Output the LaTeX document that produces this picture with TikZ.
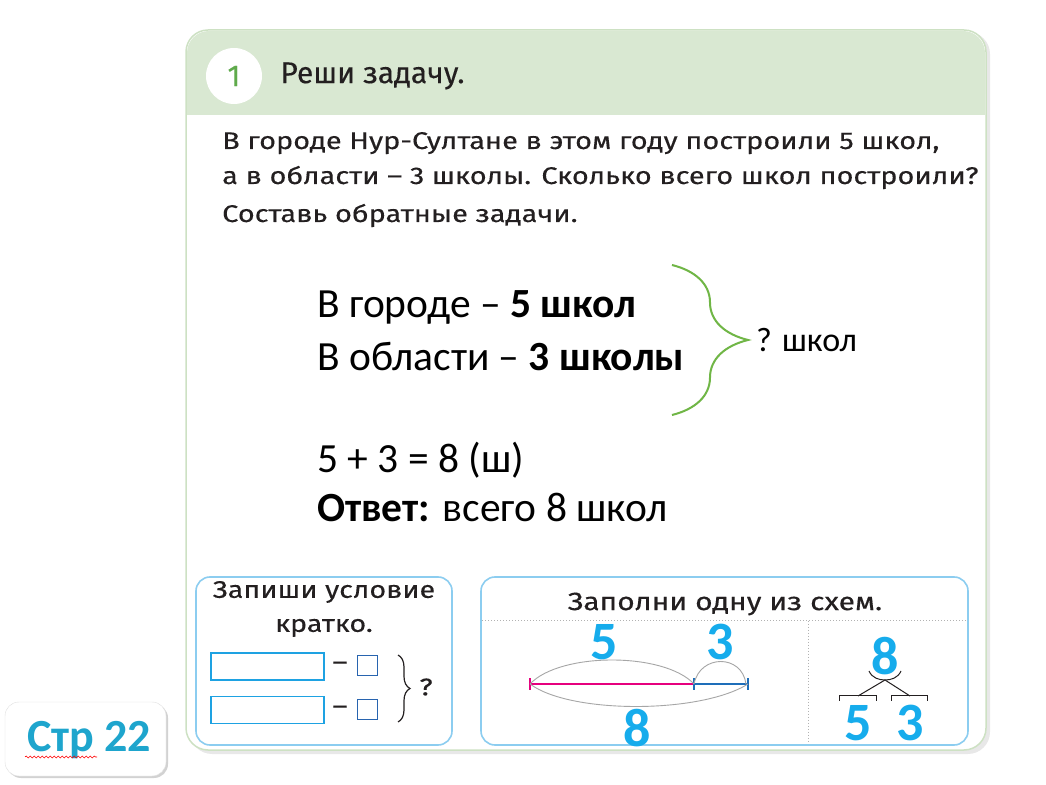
\documentclass[tikz,border=0pt]{standalone}
\usepackage{fontspec}
\setmainfont{Carlito}
\newfontfamily\manuel{Fira Sans}[FakeStretch=1.2, FakeBold=0.3]
\newfontfamily\entete{Fira Sans}[FakeBold=0.3]
\usetikzlibrary{positioning, shapes, arrows, decorations.pathreplacing, decorations.pathmorphing}
\definecolor{vertentete}{RGB}{217,232,210}
\definecolor{vertbord}{RGB}{205,225,195}
\definecolor{vertchiffre}{RGB}{95,170,75}
\definecolor{vertaccolade}{RGB}{112,182,70}
\definecolor{bleucadre}{RGB}{140,205,240}
\definecolor{bleucase}{RGB}{30,162,226}
\definecolor{bleufonce}{RGB}{40,100,175}
\definecolor{bleunombre}{RGB}{22,172,236}
\definecolor{rose}{RGB}{230,0,126}
\definecolor{bleusegment}{RGB}{30,110,185}
\definecolor{bleupage}{RGB}{30,165,205}
\definecolor{encre}{RGB}{35,31,32}

\begin{document}
\begin{tikzpicture}[x=1pt, y=1pt, >=latex']
        % Définition des styles
        \tikzstyle{manuel} = [font=\manuel\fontsize{24.1}{30}\selectfont, text=encre, inner sep=0pt]
        \tikzstyle{reponse} = [font=\fontsize{41.5}{46}\selectfont, inner sep=0pt, anchor=west]
        \tikzstyle{nombre} = [font=\bfseries\fontsize{54}{60}\selectfont, text=bleunombre, inner sep=0pt]
        \tikzstyle{cadre} = [draw=bleucadre, line width=1.6pt, rounded corners=14pt]
        \tikzstyle{case} = [draw=bleucase, line width=1.5pt]
        \tikzstyle{petitecase} = [draw=bleufonce, line width=1.5pt, minimum size=20pt, inner sep=0pt]
        \tikzstyle{arc} = [draw=gray!70, line width=0.9pt]
        \tikzstyle{pointille} = [draw=gray!60, line width=1pt, dotted]

        \useasboundingbox (0,0) rectangle (1046,784);

        % Carte principale
        \fill [gray!18, rounded corners=22pt] (190,30) rectangle (990,752);
        \draw [vertbord, fill=white, line width=1.5pt, rounded corners=22pt] (186,34) rectangle (986,754);
        \fill [vertentete, rounded corners=22pt] (187,669) -- (187,753) -- (985,753) -- (985,669) -- cycle;
        \fill [vertentete] (187,669) rectangle (985,700);

        % En-tête
        \node [circle, fill=white, minimum size=56pt, inner sep=0pt] (num) at (234,708) {};
        \node [font=\entete\fontsize{30}{34}\selectfont, text=vertchiffre] at (num) {1};
        \node [manuel, font=\entete\fontsize{30}{34}\selectfont, anchor=west, right=18pt of num] (titre) {Реши задачу.};

        % Énoncé
        \node [manuel, anchor=base west] (enonce1) at (222,635) {В городе Нур-Султане в этом году построили 5 школ,};
        \node [manuel, anchor=base west] (enonce2) at (222,600) {а в области – 3 школы. Сколько всего школ построили?};
        \node [manuel, anchor=base west] (enonce3) at (222,562) {Составь обратные задачи.};

        % Réponse
        \node [reponse] (ville) at (317,477) {В городе – \textbf{5 школ}};
        \node [reponse] (region) at (317,427) {В области – \textbf{3 школы}};
        \draw [vertaccolade, line width=2pt, decorate, decoration={brace, amplitude=76pt}]
            (672,519) -- (672,369) coordinate [pos=0.5] (pointe);
        \node [reponse, font=\fontsize{34}{40}\selectfont] (total) at (756,444) {? школ};
        \node [reponse] (calcul) at (317,324) {5 + 3 = 8 (ш)};
        \node [reponse] (ouvert) at (317,277) {\textbf{Ответ:} всего 8 школ};

        % Cadre gauche : condition
        \draw [cadre] (196,39) rectangle (452,207);
        \node [manuel, align=center, font=\manuel\fontsize{23.9}{34}\selectfont] (consigne) at (324,175) {Запиши условие\\кратко.};
        \node [case, minimum width=113pt, minimum height=27pt] (case1) at (267.5,117.5) {};
        \node [case, minimum width=113pt, minimum height=27pt] (case2) at (267.5,74) {};
        \node [petitecase] (pcase1) at (367.5,118.5) {};
        \node [petitecase] (pcase2) at (367.5,74.5) {};
        \node [manuel] at (340,118) {–};
        \node [manuel] at (340,74) {–};
        \draw [encre, line width=1.2pt, decorate, decoration={brace, amplitude=12pt}] (398,129) -- (398,62);
        \node [manuel, font=\manuel\fontsize{24}{32}\selectfont] (question) at (426,97) {?};

        % Cadre droit : schémas
        \draw [cadre] (481,39) rectangle (968,207);
        \node [manuel, font=\manuel\fontsize{24.9}{30}\selectfont] (schemas) at (725,180) {Заполни одну из схем.};
        \draw [pointille] (482,163) -- (967,163);
        \draw [pointille] (808,163) -- (808,42);

        % Schéma du segment
        \coordinate (a) at (530,100);
        \coordinate (b) at (694,100);
        \coordinate (c) at (748,100);
        \draw [rose, line width=2.4pt] (a) -- (b);
        \draw [bleusegment, line width=2.4pt] (b) -- (c);
        \draw [rose, line width=2pt] ([yshift=-6pt]a) -- ([yshift=6pt]a);
        \draw [bleusegment, line width=2pt] ([yshift=-6pt]b) -- ([yshift=6pt]b);
        \draw [bleusegment, line width=2pt] ([yshift=-6pt]c) -- ([yshift=6pt]c);
        \draw [arc] (a) .. controls (560,132) and (664,132) .. (b);
        \draw [arc] (b) .. controls (700,130) and (742,130) .. (746,100);
        \draw [arc] (a) .. controls (570,70) and (700,70) .. (c);
        \node [nombre] (cinq) at (604,142) {5};
        \node [nombre] (trois) at (720,142) {3};
        \node [nombre] (huit) at (637,56) {8};

        % Schéma de l'arbre
        \node [nombre] (total8) at (885,128) {8};
        \coordinate (noeud) at (885,104);
        \draw [encre, line width=1pt] (869,113) .. controls (872,106) and (879,104) .. (noeud)
                               (901,113) .. controls (898,106) and (891,104) .. (noeud);
        \draw [encre, line width=1pt] (noeud) -- (858,88) (noeud) -- (910,88);
        \draw [encre, line width=1pt] (839,83) |- (876,88) -- (876,83);
        \draw [encre, line width=1pt] (891,83) |- (927,88) -- (927,83);
        \node [nombre] (gauche5) at (858,61) {5};
        \node [nombre] (droite3) at (910,61) {3};

        % Étiquette de page
        \fill [gray!35, rounded corners=14pt] (7,6) rectangle (168,80);
        \draw [gray!25, fill=white, rounded corners=14pt] (5,8) rectangle (166,82);
        \node [font=\bfseries\fontsize{46}{50}\selectfont, text=bleupage, inner sep=0pt] (page) at (89,44) {Стр 22};
        \draw [red, line width=0.6pt, decorate, decoration={snake, amplitude=1pt, segment length=4pt}]
            (25,27) -- (97,27);
\end{tikzpicture}
\end{document}
